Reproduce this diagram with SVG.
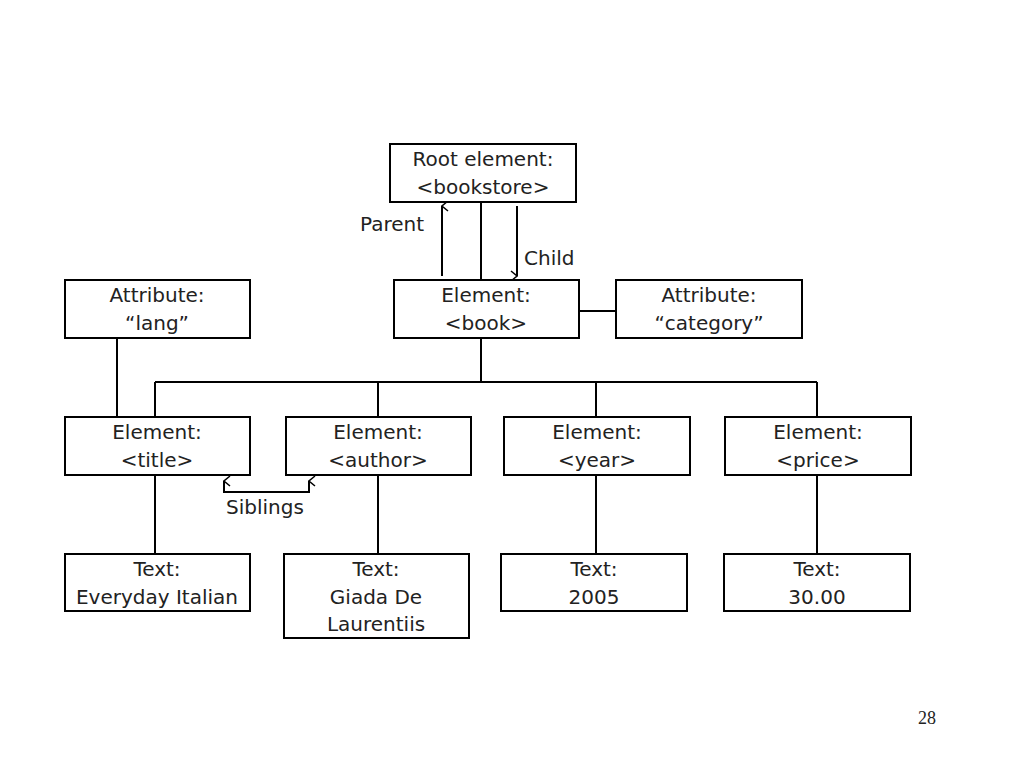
<svg xmlns="http://www.w3.org/2000/svg" width="1024" height="768" viewBox="0 0 1024 768">
<style>
rect{fill:#fff;stroke:#000;stroke-width:2}
text{font-family:"DejaVu Sans",sans-serif;font-size:20px;fill:#222;text-anchor:middle}
.c line,.c path{stroke:#000;stroke-width:2;fill:none}
.lbl{text-anchor:start}
</style>
<defs><marker id="a" markerWidth="12" markerHeight="12" refX="6" refY="1" orient="auto-start-reverse" markerUnits="userSpaceOnUse" viewBox="0 0 12 12"><path d="M1,7 L6,1 L11,7" fill="none" stroke="#000" stroke-width="1.5"/></marker></defs>
<rect x="0" y="0" width="1024" height="768" style="stroke:none"/>
<g class="c">
<line x1="481" y1="202" x2="481" y2="280"/>
<line x1="442" y1="276" x2="442" y2="206" marker-end="url(#a)"/>
<line x1="517" y1="206" x2="517" y2="276" marker-end="url(#a)"/>
<line x1="579" y1="311" x2="616" y2="311"/>
<line x1="481" y1="338" x2="481" y2="382"/>
<line x1="155" y1="382" x2="817" y2="382"/>
<line x1="155" y1="382" x2="155" y2="417"/>
<line x1="378" y1="382" x2="378" y2="417"/>
<line x1="596" y1="382" x2="596" y2="417"/>
<line x1="817" y1="382" x2="817" y2="417"/>
<line x1="117" y1="338" x2="117" y2="417"/>
<line x1="155" y1="475" x2="155" y2="554"/>
<line x1="378" y1="475" x2="378" y2="554"/>
<line x1="596" y1="475" x2="596" y2="554"/>
<line x1="817" y1="475" x2="817" y2="554"/>
<path d="M224,481 V492 H309 V481" marker-start="url(#a)" marker-end="url(#a)"/>
</g>
<text class="lbl" x="360" y="231">Parent</text>
<text class="lbl" x="524" y="265">Child</text>
<text x="265" y="514">Siblings</text>
<g id="root"><rect x="390" y="144" width="186" height="58"/><text x="483" y="166">Root element:</text><text x="483" y="194">&lt;bookstore&gt;</text></g>
<g id="book"><rect x="394" y="280" width="185" height="58"/><text x="486" y="302">Element:</text><text x="486" y="330">&lt;book&gt;</text></g>
<g id="lang"><rect x="65" y="280" width="185" height="58"/><text x="157" y="302">Attribute:</text><text x="157" y="330">“lang”</text></g>
<g id="category"><rect x="616" y="280" width="186" height="58"/><text x="709" y="302">Attribute:</text><text x="709" y="330">“category”</text></g>
<g id="title"><rect x="65" y="417" width="185" height="58"/><text x="157" y="439">Element:</text><text x="157" y="467">&lt;title&gt;</text></g>
<g id="author"><rect x="286" y="417" width="185" height="58"/><text x="378" y="439">Element:</text><text x="378" y="467">&lt;author&gt;</text></g>
<g id="year"><rect x="504" y="417" width="186" height="58"/><text x="597" y="439">Element:</text><text x="597" y="467">&lt;year&gt;</text></g>
<g id="price"><rect x="725" y="417" width="186" height="58"/><text x="818" y="439">Element:</text><text x="818" y="467">&lt;price&gt;</text></g>
<g id="t1"><rect x="65" y="554" width="185" height="57"/><text x="157" y="576">Text:</text><text x="157" y="604">Everyday Italian</text></g>
<g id="t2"><rect x="284" y="554" width="185" height="84"/><text x="376" y="576">Text:</text><text x="376" y="604">Giada De</text><text x="376" y="631">Laurentiis</text></g>
<g id="t3"><rect x="501" y="554" width="186" height="57"/><text x="594" y="576">Text:</text><text x="594" y="604">2005</text></g>
<g id="t4"><rect x="724" y="554" width="186" height="57"/><text x="817" y="576">Text:</text><text x="817" y="604">30.00</text></g>
<text x="927" y="724" style="font-family:'Liberation Serif',serif;font-size:18px">28</text>
</svg>
